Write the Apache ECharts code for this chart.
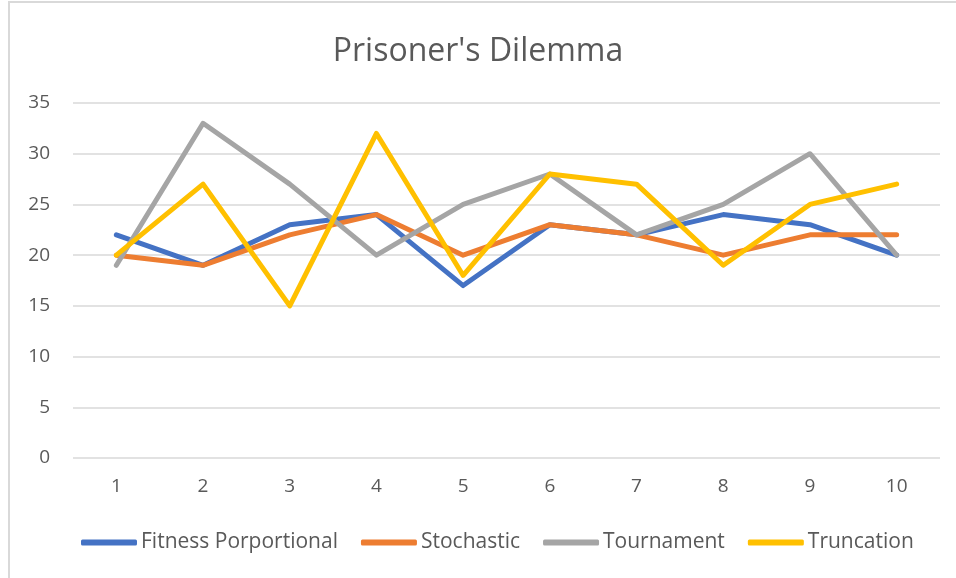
<!DOCTYPE html>
<html style="height: 100%">
<head>
    <title>Prisoner's Dilemma</title>
    <meta charset="utf-8">
</head>
<body style="height: 100%; margin: 0; background: #fff">
<div style="position:absolute;left:8px;top:1px;width:960px;height:577px;border-left:2px solid #d9d9d9;border-top:2px solid #d9d9d9"></div>
<div id="container" style="position:absolute;left:0;top:0;width:956px;height:578px"></div>
<script src="https://cdn.jsdelivr.net/npm/echarts@6/dist/echarts.min.js"></script>
<script type="text/javascript">
    // data
    var generations = ['1', '2', '3', '4', '5', '6', '7', '8', '9', '10'];
    var fitness = [22, 19, 23, 24, 17, 23, 22, 24, 23, 20];
    var stochastic = [20, 19, 22, 24, 20, 23, 22, 20, 22, 22];
    var tournament = [19, 33, 27, 20, 25, 28, 22, 25, 30, 20];
    var truncation = [20, 27, 15, 32, 18, 28, 27, 19, 25, 27];
    var yTicks = [0, 35, 5];

    var font = "'Open Sans', 'Liberation Sans', sans-serif";
    var myChart = echarts.init(document.getElementById('container'));

    function line(name, data, color) {
        return {
            name: name,
            type: 'line',
            data: data,
            symbol: 'none',
            lineStyle: {width: 5, color: color, cap: 'round', join: 'round'},
            itemStyle: {color: color}
        };
    }

    myChart.setOption({
        animation: false,
        title: {
            text: "Prisoner's Dilemma",
            left: 'center',
            top: 31,
            textStyle: {fontFamily: font, fontSize: 32, fontWeight: 'normal', color: '#595959'}
        },
        legend: {
            bottom: 20,
            left: 76,
            itemWidth: 56,
            itemHeight: 6,
            itemGap: 23,
            icon: 'roundRect',
            textStyle: {fontFamily: font, fontSize: 21, color: '#595959', padding: [0, 0, 0, -1]},
            data: ['Fitness Porportional', 'Stochastic', 'Tournament', 'Truncation']
        },
        grid: {left: 73, right: 16, top: 103, bottom: 120},
        xAxis: {
            type: 'category',
            data: generations,
            axisLine: {show: false},
            axisTick: {show: false},
            axisLabel: {fontFamily: font, fontSize: 19, color: '#595959', margin: 19}
        },
        yAxis: {
            type: 'value',
            min: yTicks[0],
            max: yTicks[1],
            interval: yTicks[2],
            axisLabel: {fontFamily: font, fontSize: 19, color: '#595959', margin: 23},
            splitLine: {lineStyle: {color: '#d9d9d9', width: 1.5}}
        },
        series: [
            line('Fitness Porportional', fitness, '#4472c4'),
            line('Stochastic', stochastic, '#ed7d31'),
            line('Tournament', tournament, '#a5a5a5'),
            line('Truncation', truncation, '#ffc000')
        ]
    });
</script>
</body>
</html>
